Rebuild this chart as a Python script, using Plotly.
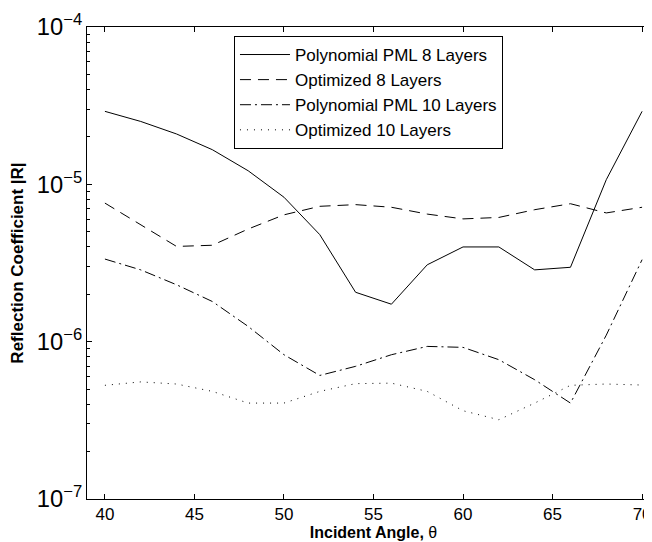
import plotly.graph_objects as go

angles = [40, 42, 44, 46, 48, 50, 52, 54, 56, 58, 60, 62, 64, 66, 68, 70]

poly8 = [2.91e-5, 2.51e-5, 2.09e-5, 1.66e-5, 1.22e-5, 8.28e-6, 4.79e-6, 2.06e-6,
         1.73e-6, 3.08e-6, 4.0e-6, 4.0e-6, 2.86e-6, 2.97e-6, 1.07e-5, 2.91e-5]
opt8 = [7.6e-6, 5.5e-6, 4.03e-6, 4.1e-6, 5.2e-6, 6.4e-6, 7.25e-6, 7.43e-6,
        7.15e-6, 6.47e-6, 6.03e-6, 6.16e-6, 6.9e-6, 7.53e-6, 6.58e-6, 7.15e-6]
poly10 = [3.35e-6, 2.86e-6, 2.3e-6, 1.8e-6, 1.25e-6, 8.26e-7, 6.1e-7, 6.97e-7,
          8.26e-7, 9.33e-7, 9.2e-7, 7.68e-7, 5.73e-7, 4.07e-7, 1.1e-6, 3.32e-6]
opt10 = [5.28e-7, 5.55e-7, 5.38e-7, 4.83e-7, 4.07e-7, 4.07e-7, 4.83e-7, 5.41e-7,
         5.45e-7, 4.83e-7, 3.64e-7, 3.19e-7, 4.07e-7, 5.28e-7, 5.38e-7, 5.3e-7]

names = ["Polynomial PML 8 Layers", "Optimized 8 Layers",
         "Polynomial PML 10 Layers", "Optimized 10 Layers"]
series = [poly8, opt8, poly10, opt10]
dashes = ["solid", "11px,7px", "11px,4px,2px,4px", "1px,6px"]

fig = go.Figure()
for nm, ys, ds in zip(names, series, dashes):
    fig.add_trace(go.Scatter(x=angles, y=ys, mode="lines", name=nm,
                             line=dict(color="black", width=1, dash=ds)))

font = "Liberation Sans, Arial, Helvetica, sans-serif"
fig.update_layout(
    width=652, height=542,
    margin=dict(l=79, r=0, t=19, b=51, autoexpand=False),
    paper_bgcolor="white", plot_bgcolor="white",
    font=dict(family=font, size=17, color="black"),
    showlegend=True,
    legend=dict(x=0.2565, y=0.981, xanchor="left", yanchor="top",
                bgcolor="white", bordercolor="black", borderwidth=1,
                font=dict(size=17), tracegroupgap=0, itemwidth=50),
    xaxis=dict(range=[39, 71], tickmode="linear", tick0=40, dtick=5,
               ticks="inside", ticklen=5, tickcolor="black",
               showline=True, linecolor="black", linewidth=1, mirror="ticks",
               showgrid=False, zeroline=False, automargin=False,
               tickfont=dict(size=17),
               title=dict(text="<b>Incident Angle, </b>θ", standoff=0,
                          font=dict(size=16))),
    yaxis=dict(type="log", range=[-7, -4], tickmode="linear", tick0=0, dtick=1,
               exponentformat="power", showexponent="all",
               ticks="inside", ticklen=5, tickcolor="black",
               tickfont=dict(size=19),
               minor=dict(ticks="inside", ticklen=3, tickcolor="black", dtick="D1",
                          showgrid=False),
               showline=True, linecolor="black", linewidth=1, mirror="ticks",
               showgrid=False, zeroline=False, automargin=False,
               title=dict(text="<b>Reflection Coefficient |R|</b>", standoff=8,
                          font=dict(size=17))),
)

fig.write_html("out.html")
